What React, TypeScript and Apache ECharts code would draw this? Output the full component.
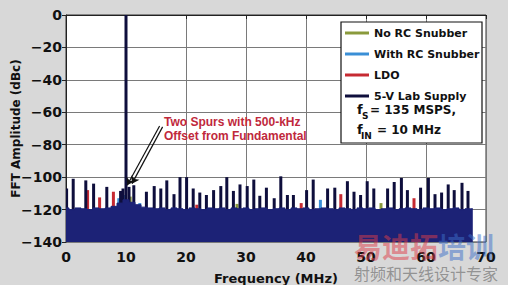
import React, { useEffect, useRef } from "react";
import * as echarts from "echarts";

const legendNames = ["No RC Snubber", "With RC Snubber", "LDO", "5-V Lab Supply"];
const seriesColors = ["#8a9a3c", "#3a8fd6", "#c62a32", "#0e0e3c"];
const floorColor = "#1c2276";

// noise floor of the 5-V lab supply trace (MHz, dBc)
const floorFreq = [0, 1, 2, 3, 4, 5, 6, 7, 8, 9, 10, 11, 12, 13, 14, 15, 16, 17, 18, 19, 20, 21, 22, 23, 24, 25, 26, 27, 28, 29, 30, 31, 32, 33, 34, 35, 36, 37, 38, 39, 40, 41, 42, 43, 44, 45, 46, 47, 48, 49, 50, 51, 52, 53, 54, 55, 56, 57, 58, 59, 60, 61, 62, 63, 64, 65, 66, 67, 67.8];
const floorLevel = [-119, -120, -119, -119.5, -120, -119, -119.5, -119, -118, -116, -114, -115.5, -117, -118.5, -119, -119.5, -119, -120, -119, -119.5, -120, -119, -119.5, -120, -119, -119.5, -119, -120, -119, -119.5, -119, -120, -119.5, -119, -120, -119.5, -119, -120, -119, -119.5, -119, -120, -119.5, -119, -119.5, -120, -119, -119.5, -120, -119, -119.5, -119, -120, -119.5, -119, -120, -119.5, -119, -119.5, -120, -119, -119.5, -119, -120, -119.5, -119, -120, -119.5, -119.5];

// spurs of the 5-V lab supply trace, including the fundamental at 10 MHz
const labSpurFreq = [0.1, 1.2, 3.3, 4.6, 6.8, 9.1, 9.5, 10, 10.5, 11.3, 13.4, 14.7, 15.8, 16.8, 18, 19, 20.1, 21.2, 22.3, 23.4, 24.6, 25.8, 26.8, 27.9, 29, 30.2, 31.3, 32.3, 33.4, 34.7, 35.8, 36.9, 37.9, 40.1, 41.2, 43.6, 44.8, 46.9, 48, 49.1, 50.2, 51.3, 53.6, 54.7, 55.9, 56.9, 59.1, 60.4, 61.5, 62.6, 63.7, 64.7, 66, 67];
const labSpurLevel = [-107, -101, -102, -104, -106, -108.5, -107, 0, -106, -105, -109, -105.5, -107, -102, -110.5, -100, -100, -107, -109.5, -111, -108, -105.5, -100, -108.5, -104.5, -105.5, -101.5, -111.5, -106.5, -113, -99.5, -111, -111, -108, -101.5, -107, -106.5, -102.5, -109, -111, -102.5, -107, -107, -103, -100.5, -108, -106.5, -100.5, -110.5, -109.5, -104.5, -108, -103.5, -108.5];

const ldoSpurFreq = [3.6, 5.6, 7.9, 21.8, 39.2, 45.8, 58];
const ldoSpurLevel = [-108, -112.5, -109, -117, -116, -110.5, -113];

const rcSpurFreq = [8.8, 9.6, 12.3, 42.4];
const rcSpurLevel = [-113, -111, -116, -114];

const noRcSpurFreq = [10.7, 28.5, 52.5];
const noRcSpurLevel = [-112, -116.5, -116];

const arrowStart = [[15.6, -68.5], [16.1, -69]];
const arrowEnd = [[10.2, -105], [11.0, -104]];

const AXIS_FONT = "DejaVu Sans";

function pairs(xs: number[], ys: number[]) {
  return xs.map((x, i) => [x, ys[i]]);
}

const renderSpur = (params: any, api: any) => {
  const x = api.value(0);
  const y = api.value(1);
  const top = api.coord([x, y]);
  const bot = api.coord([x, -140]);
  const w = 3;
  return {
    type: "rect",
    shape: { x: top[0] - w / 2, y: top[1], width: w, height: bot[1] - top[1] },
    style: { fill: api.visual("color") },
  };
};

export default function App() {
  const ref = useRef<HTMLDivElement>(null);
  useEffect(() => {
    if (!ref.current) return;
    const chart = echarts.init(ref.current, undefined, { renderer: "svg" });
    const spurSeries = (name: string, color: string, xs: number[], ys: number[]) => ({
      name,
      type: "custom",
      renderItem: renderSpur,
      itemStyle: { color, borderWidth: 0 },
      encode: { x: 0, y: 1 },
      data: pairs(xs, ys),
      clip: true,
    });
    chart.setOption({
      animation: false,
      backgroundColor: "#d8d8d8",
      grid: {
        left: 66,
        top: 15,
        width: 420,
        height: 227,
        show: true,
        outerBoundsMode: "none",
        containLabel: false,
        backgroundColor: "#ffffff",
        borderColor: "#333333",
        borderWidth: 1,
      },
      xAxis: {
        type: "value",
        min: 0,
        max: 70,
        interval: 10,
        name: "Frequency (MHz)",
        nameLocation: "middle",
        nameGap: 30,
        nameMoveOverlap: false,
        nameTextStyle: { fontFamily: AXIS_FONT, fontWeight: "bold", fontSize: 13, color: "#111" },
        axisLine: { show: true, lineStyle: { color: "#222", width: 1 } },
        axisTick: { show: true, length: 4, lineStyle: { color: "#222" } },
        axisLabel: { fontFamily: AXIS_FONT, fontWeight: "bold", fontSize: 14, color: "#111", margin: 8 },
        splitLine: { show: true, lineStyle: { color: "#7a7a7a", width: 1 } },
      },
      yAxis: {
        type: "value",
        min: -140,
        max: 0,
        interval: 20,
        name: "FFT Amplitude (dBc)",
        nameLocation: "middle",
        nameGap: 44,
        nameMoveOverlap: false,
        nameTextStyle: { fontFamily: AXIS_FONT, fontWeight: "bold", fontSize: 12, color: "#111" },
        axisLine: { show: true, lineStyle: { color: "#222", width: 1 } },
        axisTick: { show: true, length: 4, lineStyle: { color: "#222" } },
        axisLabel: {
          fontFamily: AXIS_FONT,
          fontWeight: "bold",
          fontSize: 14,
          color: "#111",
          margin: 4,
          formatter: (v: number) => (v === 0 ? "0" : "\u2212" + Math.abs(v)),
        },
        splitLine: { show: true, lineStyle: { color: "#7a7a7a", width: 1 } },
      },
      legend: {
        data: legendNames,
        orient: "vertical",
        left: 345,
        top: 26,
        z: 10,
        icon: "rect",
        itemWidth: 24,
        itemHeight: 3,
        itemGap: 7,
        padding: 0,
        itemStyle: { borderWidth: 0 },
        lineStyle: { width: 0 },
        textStyle: { fontFamily: AXIS_FONT, fontWeight: "bold", fontSize: 11, color: "#111", lineHeight: 14 },
        selectedMode: false,
      },
      graphic: [
        {
          type: "rect",
          z: 5,
          shape: { x: 341, y: 22, width: 141, height: 121 },
          style: { fill: "#ffffff", stroke: "#111111", lineWidth: 1.2 },
        },
        { type: "text", z: 100, x: 357, y: 103, style: { text: "f", font: `bold 13px "${AXIS_FONT}"`, fill: "#111" } },
        { type: "text", z: 100, x: 362, y: 111, style: { text: "S", font: `bold 9px "${AXIS_FONT}"`, fill: "#111" } },
        { type: "text", z: 100, x: 370, y: 104, style: { text: "= 135 MSPS,", font: `bold 12px "${AXIS_FONT}"`, fill: "#111" } },
        { type: "text", z: 100, x: 357, y: 123, style: { text: "f", font: `bold 13px "${AXIS_FONT}"`, fill: "#111" } },
        { type: "text", z: 100, x: 361, y: 131, style: { text: "IN", font: `bold 9px "${AXIS_FONT}"`, fill: "#111" } },
        { type: "text", z: 100, x: 377, y: 124, style: { text: "= 10 MHz", font: `bold 12px "${AXIS_FONT}"`, fill: "#111" } },
        {
          type: "text",
          z: 100,
          x: 164,
          y: 115,
          style: {
            text: "Two Spurs with 500-kHz\nOffset from Fundamental",
            font: 'bold 12px "Liberation Sans"',
            lineHeight: 14,
            fill: "#c0283c",
          },
        },
        { type: "text", z: 100, x: 354, y: 232, style: { text: "易迪拓", font: 'bold 28px "Noto Sans CJK SC"', fill: "rgba(222,60,72,0.5)" } },
        { type: "text", z: 100, x: 438, y: 232, style: { text: "培训", font: 'bold 28px "Noto Sans CJK SC"', fill: "rgba(60,110,200,0.5)" } },
        { type: "text", z: 100, x: 354, y: 265, style: { text: "射频和天线设计专家", font: '16px "Noto Sans CJK SC"', fill: "rgba(100,100,100,0.6)" } },
      ],
      series: [
        spurSeries(legendNames[0], seriesColors[0], noRcSpurFreq, noRcSpurLevel),
        spurSeries(legendNames[1], seriesColors[1], rcSpurFreq, rcSpurLevel),
        spurSeries(legendNames[2], seriesColors[2], ldoSpurFreq, ldoSpurLevel),
        {
          name: legendNames[3],
          type: "line",
          data: pairs(floorFreq, floorLevel),
          step: "middle",
          symbol: "none",
          itemStyle: { color: seriesColors[3] },
          lineStyle: { color: floorColor, width: 1 },
          areaStyle: { color: floorColor, opacity: 1, origin: "start" },
          markLine: {
            silent: true,
            symbol: ["none", "arrow"],
            symbolSize: 7,
            label: { show: false },
            lineStyle: { color: "#111", width: 1.2, type: "solid" },
            data: arrowStart.map((s, i) => [{ coord: s }, { coord: arrowEnd[i] }]),
          },
        },
        spurSeries(legendNames[3], seriesColors[3], labSpurFreq, labSpurLevel),
      ],
    });
    return () => chart.dispose();
  }, []);
  return <div ref={ref} style={{ position: "fixed", left: 0, top: 0, width: 508, height: 285 }} />;
}
